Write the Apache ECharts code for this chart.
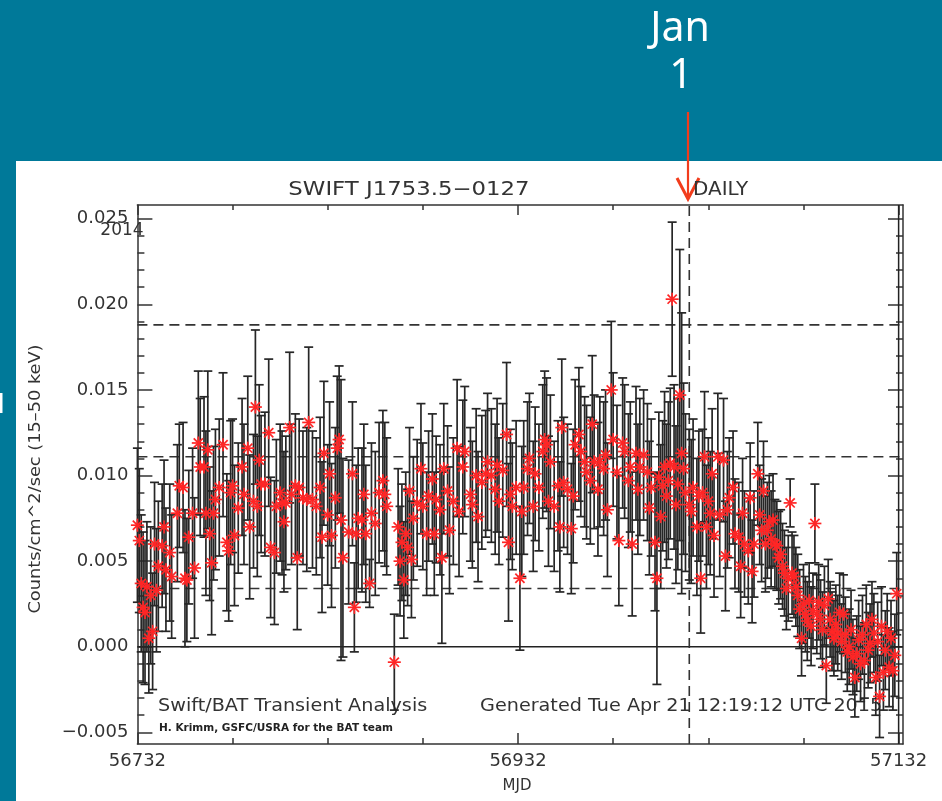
<!DOCTYPE html>
<html>
<head>
<meta charset="utf-8">
<title>SWIFT J1753.5-0127 daily light curve</title>
<script src="https://cdn.jsdelivr.net/npm/echarts@6/dist/echarts.min.js"></script>
<style>
  html, body { margin: 0; padding: 0; width: 942px; height: 801px; overflow: hidden; background: #007999; }
  #panel { position: absolute; left: 16px; top: 161px; width: 926px; height: 640px; background: #ffffff; }
  #chart { position: absolute; left: 0; top: 0; width: 942px; height: 801px; }
</style>
</head>
<body>
<div id="panel"></div>
<div id="chart"></div>
<script>
// BAT daily rate, one slot per day starting at MJD0 (null = no measurement)
const MJD0 = 56732;
const rate = [
  0.0071, 0.0062, 0.0037, 0.0023, 0.0020, 0.0035, 0.0005, 0.0030, 0.0009, 0.0060,
  0.0033, 0.0047, null,   0.0059, 0.0070, 0.0045, null,   0.0055, 0.0041, null,
  null,   0.0078, 0.0094, null,   0.0093, 0.0040, 0.0039, 0.0064, null,   0.0078,
  0.0046, null,   0.0119, 0.0105, null,   0.0105, 0.0078, 0.0115, 0.0066, 0.0049,
  0.0078, 0.0086, null,   0.0093, null,   0.0118, null,   0.0061, 0.0056, 0.0090,
  0.0094, 0.0065, null,   0.0081, null,   0.0105, 0.0089, null,   0.0116, 0.0070,
  null,   0.0085, 0.0140, 0.0082, 0.0109, 0.0095, null,   0.0095, null,   0.0125,
  0.0058, null,   0.0055, 0.0082, null,   0.0090, 0.0084, 0.0073, 0.0084, null,
  0.0128, 0.0089, null,   0.0094, 0.0052, 0.0093, null,   0.0087, null,   0.0086,
  0.0131, null,   0.0086, null,   0.0082, null,   0.0093, 0.0064, 0.0113, null,
  0.0077, 0.0101, 0.0065, null,   0.0087, 0.0116, 0.0121, 0.0074, 0.0052, null,
  null,   0.0067, null,   0.0101, 0.0023, 0.0066, 0.0075, null,   0.0074, 0.0089,
  0.0066, null,   0.0037, 0.0078, null,   0.0072, null,   0.0090, null,   0.0097,
  0.0089, 0.0082, null,   null,   null,  -0.0009, null,   0.0070, 0.0050, 0.0061,
  0.0039, 0.0066, 0.0058, 0.0091, 0.0051, 0.0075, null,   0.0084, null,   0.0104,
  0.0082, null,   0.0066, 0.0088, null,   0.0098, 0.0066, 0.0086, null,   0.0080,
  0.0052, 0.0104, null,   0.0091, 0.0068, null,   0.0085, null,   0.0116, 0.0079,
  null,   0.0105, 0.0114, null,   null,   0.0089, 0.0083, null,   0.0100, 0.0076,
  null,   0.0096, null,   0.0101, 0.0108, null,   0.0100, null,   0.0092, 0.0106,
  0.0085, null,   0.0103, null,   0.0124, 0.0061, 0.0089, 0.0082, null,   0.0093,
  null,   0.0040, 0.0079, 0.0093, null,   0.0104, 0.0110, null,   0.0082, 0.0101,
  null,   0.0093, null,   0.0114, 0.0121, 0.0118, 0.0085, 0.0108, null,   0.0082,
  null,   0.0094, 0.0070, 0.0128, 0.0096, null,   0.0092, null,   0.0069, 0.0088,
  0.0118, null,   0.0124, 0.0114, null,   0.0108, 0.0102, null,   0.0097, 0.0130,
  0.0108, null,   0.0092, 0.0108, null,   0.0104, 0.0112, 0.0080, null,   0.0150,
  0.0121, null,   0.0102, 0.0062, null,   0.0119, 0.0114, null,   0.0097, 0.0105,
  0.0060, null,   0.0113, 0.0092, 0.0105, null,   0.0112, null,   0.0102, 0.0081,
  0.0093, null,   0.0061, 0.0040, 0.0099, 0.0076, 0.0094, 0.0105, 0.0088, 0.0097,
  0.0107, 0.0203, 0.0105, 0.0083, 0.0095, 0.0147, 0.0113, 0.0104, 0.0090, null,
  0.0083, 0.0079, 0.0093, null,   0.0070, 0.0088, 0.0040, 0.0090, 0.0111, 0.0070,
  0.0085, 0.0078, 0.0101, 0.0065, null,   0.0111, 0.0077, null,   0.0109, 0.0053,
  0.0080, 0.0087, null,   0.0093, 0.0066, null,   0.0064, 0.0047, 0.0078, 0.0060,
  null,   0.0056, 0.0087, 0.0044, 0.0060, null,   0.0101, 0.0077, 0.0068, 0.0091,
  0.0060, 0.0068, 0.0073, 0.0063, 0.0074, 0.0060, 0.0059, 0.0052, 0.0054, 0.0047,
  0.0043, 0.0034, 0.0040, 0.0084, 0.0043, 0.0041, 0.0035, 0.0030, 0.0022, 0.0005,
  0.0025, 0.0019, 0.0015, 0.0027, 0.0012, 0.0021, 0.0072, 0.0019, 0.0026, 0.0016,
  0.0010, 0.0024, -0.0011, 0.0028, 0.0016, 0.0009, 0.0005, 0.0013, 0.0008, 0.0020,
  0.0003, 0.0019, 0.0007, -0.0003, 0.0000, 0.0010, -0.0006, -0.0018, -0.0004, 0.0004,
  -0.0010, 0.0007, -0.0008, 0.0013, -0.0002, 0.0002, 0.0016, 0.0008, -0.0018, 0.0003,
  -0.0029, 0.0012, -0.0015, -0.0002, 0.0009, -0.0012, 0.0005, -0.0014, -0.0005, 0.0031
];
// 1-sigma uncertainty for each slot of rate
const rateErr = [
  0.0045, 0.0042, 0.0040, 0.0044, 0.0042, 0.0038, 0.0032, 0.0040, 0.0034, 0.0036,
  0.0036, 0.0038, null,   0.0036, 0.0039, 0.0036, null,   0.0040, 0.0036, null,
  null,   0.0040, 0.0036, null,   0.0038, 0.0040, 0.0036, 0.0039, null,   0.0038,
  0.0041, null,   0.0042, 0.0040, null,   0.0041, 0.0048, 0.0046, 0.0039, 0.0042,
  0.0039, 0.0041, null,   0.0040, null,   0.0042, null,   0.0040, 0.0041, 0.0042,
  0.0039, 0.0041, null,   0.0038, null,   0.0040, 0.0041, null,   0.0042, 0.0042,
  null,   0.0039, 0.0045, 0.0041, 0.0044, 0.0040, null,   0.0042, null,   0.0043,
  0.0041, null,   0.0042, 0.0039, null,   0.0040, 0.0042, 0.0041, 0.0039, null,
  0.0044, 0.0041, null,   0.0042, 0.0042, 0.0040, null,   0.0039, null,   0.0042,
  0.0044, null,   0.0040, null,   0.0040, null,   0.0041, 0.0044, 0.0042, null,
  0.0041, 0.0042, 0.0042, null,   0.0041, 0.0042, 0.0043, 0.0082, 0.0058, null,
  null,   0.0042, null,   0.0042, 0.0026, 0.0040, 0.0041, null,   0.0042, 0.0041,
  0.0040, null,   0.0014, 0.0041, null,   0.0042, null,   0.0041, null,   0.0041,
  0.0042, 0.0040, null,   null,   null,   0.0028, null,   0.0034, 0.0032, 0.0034,
  0.0034, 0.0036, 0.0034, 0.0037, 0.0034, 0.0036, null,   0.0037, null,   0.0038,
  0.0037, null,   0.0036, 0.0038, null,   0.0038, 0.0036, 0.0037, null,   0.0038,
  0.0050, 0.0038, null,   0.0038, 0.0037, null,   0.0037, null,   0.0040, 0.0038,
  null,   0.0039, 0.0038, null,   null,   0.0039, 0.0037, null,   0.0039, 0.0038,
  null,   0.0039, null,   0.0037, 0.0040, null,   0.0039, null,   0.0038, 0.0039,
  0.0037, null,   0.0039, null,   0.0042, 0.0046, 0.0038, 0.0037, null,   0.0039,
  null,   0.0042, 0.0038, 0.0039, null,   0.0039, 0.0038, null,   0.0038, 0.0039,
  null,   0.0037, null,   0.0039, 0.0040, 0.0039, 0.0038, 0.0039, null,   0.0038,
  null,   0.0038, 0.0038, 0.0040, 0.0038, null,   0.0038, null,   0.0038, 0.0039,
  0.0038, null,   0.0039, 0.0038, null,   0.0038, 0.0039, null,   0.0037, 0.0040,
  0.0039, null,   0.0039, 0.0038, null,   0.0039, 0.0038, 0.0039, null,   0.0040,
  0.0039, null,   0.0039, 0.0038, null,   0.0038, 0.0039, null,   0.0039, 0.0038,
  0.0042, null,   0.0039, 0.0038, 0.0040, null,   0.0038, null,   0.0040, 0.0039,
  0.0040, null,   0.0040, 0.0062, 0.0038, 0.0042, 0.0038, 0.0044, 0.0042, 0.0046,
  0.0044, 0.0045, 0.0048, 0.0046, 0.0050, 0.0085, 0.0082, 0.0050, 0.0046, null,
  0.0044, 0.0042, 0.0040, null,   0.0040, 0.0038, 0.0032, 0.0037, 0.0038, 0.0036,
  0.0037, 0.0036, 0.0038, 0.0036, null,   0.0037, 0.0036, null,   0.0036, 0.0032,
  0.0034, 0.0035, null,   0.0033, 0.0032, null,   0.0032, 0.0030, 0.0032, 0.0031,
  null,   0.0031, 0.0032, 0.0030, 0.0031, null,   0.0030, 0.0029, 0.0030, 0.0029,
  0.0028, 0.0028, 0.0027, 0.0028, 0.0027, 0.0026, 0.0026, 0.0027, 0.0026, 0.0025,
  0.0025, 0.0024, 0.0025, 0.0014, 0.0024, 0.0024, 0.0023, 0.0024, 0.0023, 0.0022,
  0.0023, 0.0022, 0.0023, 0.0022, 0.0023, 0.0022, 0.0023, 0.0023, 0.0022, 0.0023,
  0.0022, 0.0023, 0.0022, 0.0023, 0.0022, 0.0023, 0.0022, 0.0023, 0.0022, 0.0023,
  0.0022, 0.0023, 0.0022, 0.0023, 0.0022, 0.0023, 0.0022, 0.0023, 0.0022, 0.0023,
  0.0022, 0.0023, 0.0022, 0.0023, 0.0022, 0.0023, 0.0022, 0.0023, 0.0022, 0.0023,
  0.0024, 0.0023, 0.0022, 0.0023, 0.0022, 0.0023, 0.0022, 0.0023, 0.0024, 0.0024
];

// axis ranges and ticks
const xRange = [56732, 57134.3];
const xLabelTicks = [56732, 56932, 57132];
const xMinorTicks = [56782, 56832, 56882, 56982, 57032, 57082];
const yRange = [-0.00568, 0.0258];
const yMajorTicks = [-0.005, 0.000, 0.005, 0.010, 0.015, 0.020, 0.025];
const yMinorTicks = [
  -0.005, -0.004, -0.003, -0.002, -0.001, 0.000, 0.001, 0.002, 0.003, 0.004,
  0.005, 0.006, 0.007, 0.008, 0.009, 0.010, 0.011, 0.012, 0.013, 0.014,
  0.015, 0.016, 0.017, 0.018, 0.019, 0.020, 0.021, 0.022, 0.023, 0.024, 0.025
];

// reference levels: mean rate and the band around it, plus the 2015 Jan 1 marker
const meanRate = 0.0111;
const bandLevels = [0.0034, 0.0188];
const jan1Mjd = 57022;
const lastDay = 57132;

const points = [];
rate.forEach(function (r, i) {
  if (r !== null) points.push([MJD0 + i, r, rateErr[i]]);
});

// guide lines: [kind, value, dashed]; kind 0 = horizontal at a rate, 1 = vertical at an MJD
const guides = [
  [0, meanRate, 1],
  [0, bandLevels[0], 1],
  [0, bandLevels[1], 1],
  [0, 0, 0],
  [1, jan1Mjd, 1],
  [1, lastDay, 0]
];

const INK = '#333333';
const FONT = 'DejaVu Sans';

function renderGuide(params, api) {
  const kind = api.value(0), v = api.value(1), isDashed = api.value(2) === 1;
  let a, b;
  if (kind === 0) {
    a = api.coord([xRange[0], v]);
    b = api.coord([xRange[1], v]);
  } else {
    a = api.coord([v, yRange[0]]);
    b = api.coord([v, yRange[1]]);
  }
  return {
    type: 'line',
    shape: { x1: a[0], y1: a[1], x2: b[0], y2: b[1] },
    style: { stroke: isDashed ? INK : '#222222', lineWidth: isDashed ? 1.6 : 1.5, lineDash: isDashed ? [10, 6] : null }
  };
}

function renderErrorBar(params, api) {
  const x = api.value(0), y = api.value(1), e = api.value(2);
  const hi = api.coord([x, y + e]);
  const lo = api.coord([x, y - e]);
  const cw = 4.5;
  const st = { stroke: '#262626', lineWidth: 1.7 };
  return {
    type: 'group',
    children: [
      { type: 'line', shape: { x1: hi[0], y1: hi[1], x2: lo[0], y2: lo[1] }, style: st },
      { type: 'line', shape: { x1: hi[0] - cw, y1: hi[1], x2: hi[0] + cw, y2: hi[1] }, style: st },
      { type: 'line', shape: { x1: lo[0] - cw, y1: lo[1], x2: lo[0] + cw, y2: lo[1] }, style: st }
    ]
  };
}

function renderStar(params, api) {
  const c = api.coord([api.value(0), api.value(1)]);
  const r = 6.5, d = 4.6;
  const st = { stroke: '#ff2626', lineWidth: 1.7 };
  return {
    type: 'group',
    children: [
      { type: 'line', shape: { x1: c[0], y1: c[1] - r, x2: c[0], y2: c[1] + r }, style: st },
      { type: 'line', shape: { x1: c[0] - r, y1: c[1], x2: c[0] + r, y2: c[1] }, style: st },
      { type: 'line', shape: { x1: c[0] - d, y1: c[1] - d, x2: c[0] + d, y2: c[1] + d }, style: st },
      { type: 'line', shape: { x1: c[0] - d, y1: c[1] + d, x2: c[0] + d, y2: c[1] - d }, style: st }
    ]
  };
}

function xAxisDef(position, ticks, len, withLine, withLabels) {
  return {
    type: 'value', position: position, min: xRange[0], max: xRange[1],
    axisLine: { show: withLine, onZero: false, lineStyle: { color: INK, width: 1.5 } },
    axisTick: { show: true, inside: true, length: len, customValues: ticks, lineStyle: { color: INK, width: 1.5 } },
    axisLabel: withLabels ? {
      show: true, customValues: xLabelTicks, margin: 8,
      color: INK, fontFamily: FONT, fontSize: 18,
      formatter: function (v) { return String(Math.round(v)); }
    } : { show: false },
    splitLine: { show: false }
  };
}

function yAxisDef(position, ticks, len, withLine, withLabels) {
  return {
    type: 'value', position: position, min: yRange[0], max: yRange[1],
    axisLine: { show: withLine, onZero: false, lineStyle: { color: INK, width: 1.5 } },
    axisTick: { show: true, inside: true, length: len, customValues: ticks, lineStyle: { color: INK, width: 1.5 } },
    axisLabel: withLabels ? {
      show: true, customValues: yMajorTicks, margin: 9,
      color: INK, fontFamily: FONT, fontSize: 18,
      formatter: function (v) {
        const s = Math.abs(v).toFixed(3);
        return v < -1e-9 ? '\u2212' + s : s;
      }
    } : { show: false },
    splitLine: { show: false }
  };
}

const chart = echarts.init(document.getElementById('chart'), null, { renderer: 'canvas' });

chart.setOption({
  animation: false,
  backgroundColor: 'transparent',
  grid: { left: 137.4, top: 205, right: 39, bottom: 57, containLabel: false },
  xAxis: [
    xAxisDef('bottom', xMinorTicks, 6, true, true),
    xAxisDef('bottom', xLabelTicks, 11, false, false),
    xAxisDef('top', xMinorTicks, 5, true, false),
    xAxisDef('top', xLabelTicks, 10, false, false)
  ],
  yAxis: [
    yAxisDef('left', yMajorTicks, 15, true, true),
    yAxisDef('left', yMinorTicks, 7, false, false),
    yAxisDef('right', yMajorTicks, 15, true, false),
    yAxisDef('right', yMinorTicks, 7, false, false)
  ],
  series: [
    {
      type: 'custom', name: 'guides', xAxisIndex: 0, yAxisIndex: 0, z: 1,
      renderItem: renderGuide, data: guides, silent: true, clip: true
    },
    {
      type: 'custom', name: 'error', xAxisIndex: 0, yAxisIndex: 0, z: 3,
      renderItem: renderErrorBar, data: points, silent: true
    },
    {
      type: 'custom', name: 'rate', xAxisIndex: 0, yAxisIndex: 0, z: 4,
      renderItem: renderStar, data: points, silent: true
    }
  ],
  graphic: [
    { type: 'rect', shape: { x: 0, y: 393, width: 2.5, height: 20 }, style: { fill: '#ffffff' } },
    { type: 'text', x: 680, y: 29, style: { text: 'Jan', fill: '#ffffff', font: '41px "Noto Sans"', align: 'center', verticalAlign: 'middle' } },
    { type: 'text', x: 681, y: 76, style: { text: '1', fill: '#ffffff', font: '41px "Noto Sans"', align: 'center', verticalAlign: 'middle' } },
    { type: 'line', shape: { x1: 688, y1: 112, x2: 688, y2: 197 }, style: { stroke: '#f23c1c', lineWidth: 2.2 } },
    { type: 'polyline', shape: { points: [[677, 178], [688, 199], [699, 178]] }, style: { stroke: '#f23c1c', lineWidth: 3, fill: null } },
    { type: 'text', x: 409, y: 190, scaleX: 1.2, style: { text: 'SWIFT J1753.5\u22120127', fill: INK, font: '19px "DejaVu Sans"', align: 'center', verticalAlign: 'middle' } },
    { type: 'text', x: 693, y: 190, scaleX: 1.05, style: { text: 'DAILY', fill: INK, font: '19px "DejaVu Sans"', align: 'left', verticalAlign: 'middle' } },
    { type: 'text', x: 122, y: 231, style: { text: '2014', fill: INK, font: '17px "DejaVu Sans"', align: 'center', verticalAlign: 'middle' } },
    { type: 'text', x: 158, y: 707, scaleX: 1.13, style: { text: 'Swift/BAT Transient Analysis', fill: INK, font: '17px "DejaVu Sans"', align: 'left', verticalAlign: 'middle' } },
    { type: 'text', x: 159, y: 728, scaleX: 1.05, style: { text: 'H. Krimm, GSFC/USRA for the BAT team', fill: '#222222', font: 'bold 10px "DejaVu Sans"', align: 'left', verticalAlign: 'middle' } },
    { type: 'text', x: 480, y: 707, scaleX: 1.13, style: { text: 'Generated Tue Apr 21 12:19:12 UTC 2015', fill: INK, font: '17px "DejaVu Sans"', align: 'left', verticalAlign: 'middle' } },
    { type: 'text', x: 517, y: 786, style: { text: 'MJD', fill: INK, font: '15px "DejaVu Sans"', align: 'center', verticalAlign: 'middle' } },
    { type: 'text', x: 36, y: 479, rotation: Math.PI / 2, scaleX: 1.11, style: { text: 'Counts/cm^2/sec (15\u201350 keV)', fill: INK, font: '16px "DejaVu Sans"', align: 'center', verticalAlign: 'middle' } }
  ]
});
</script>
</body>
</html>
